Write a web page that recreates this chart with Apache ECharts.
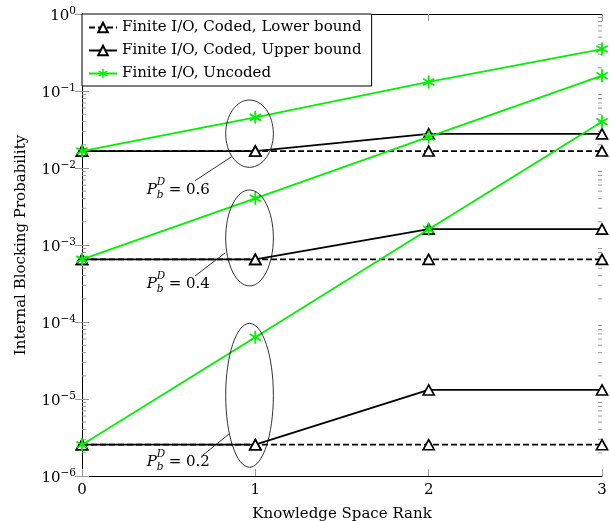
<!DOCTYPE html>
<html><head><meta charset="utf-8">
<script src="https://cdn.jsdelivr.net/npm/echarts@6/dist/echarts.min.js"></script>
<style>html,body{margin:0;padding:0;background:#fff}#c{width:610px;height:521px}</style>
</head><body><div id="c"></div>
<script>
// ---- data ----
const ranks = [0, 1, 2, 3];
const lower06 = [0.0166, 0.0166, 0.0166, 0.0166];
const upper06 = [0.0166, 0.0166, 0.0277, 0.0277];
const uncoded06 = [0.0166, 0.0455, 0.131, 0.351];
const lower04 = [6.5e-4, 6.5e-4, 6.5e-4, 6.5e-4];
const upper04 = [6.5e-4, 6.5e-4, 1.61e-3, 1.61e-3];
const uncoded04 = [6.5e-4, 4.04e-3, 0.0253, 0.158];
const lower02 = [2.55e-6, 2.55e-6, 2.55e-6, 2.55e-6];
const upper02 = [2.55e-6, 2.55e-6, 1.31e-5, 1.31e-5];
const uncoded02 = [2.55e-6, 6.33e-5, 1.6e-3, 0.0399];
const seriesNames = ['Finite I/O, Coded, Lower bound', 'Finite I/O, Coded, Upper bound', 'Finite I/O, Uncoded'];
const xTickLabels = ['0', '1', '2', '3'];
const pdLabels = ['0.6', '0.4', '0.2'];
// annotation anchors in data coordinates: ellipse box [xmin,ymin,xmax,ymax], leader line [x1,y1,x2,y2], label [x,y]
const ellipseBoxes = [[0.829, 0.0102, 1.104, 0.0764], [0.829, 2.94e-4, 1.104, 5.18e-3], [0.829, 1.30e-6, 1.104, 9.6e-5]];
const leaderLines = [[0.863, 0.0140, 0.652, 6.84e-3], [0.825, 7.87e-4, 0.652, 3.96e-4], [0.848, 3.51e-6, 0.698, 1.87e-6]];
const labelAnchors = [[0.373, 5.18e-3], [0.373, 3.12e-4], [0.373, 1.53e-6]];
const minorTickValues = [];
for (let k = -6; k < 0; k++) for (let m = 2; m <= 9; m++) minorTickValues.push(m * Math.pow(10, k));

// ---- style ----
const FONT = "'DejaVu Serif'";
const FS = 15;
const GREEN = '#00f000';
function asteriskPath() {
  const L = 6, W = 0.85; let d = '';
  [90, 30, 150].forEach(a => {
    const r = a * Math.PI / 180, dx = Math.cos(r), dy = Math.sin(r), nx = -dy, ny = dx;
    const pts = [[L*dx + W*nx, L*dy + W*ny], [L*dx - W*nx, L*dy - W*ny], [-L*dx - W*nx, -L*dy - W*ny], [-L*dx + W*nx, -L*dy + W*ny]];
    d += 'M' + pts.map(p => (p[0] + 7).toFixed(3) + ' ' + (p[1] + 7).toFixed(3)).join(' L') + ' Z ';
  });
  return 'path://' + d;
}
const STAR = asteriskPath();
const pairs = arr => ranks.map((r, i) => [r, arr[i]]);

function lineSeries(name, arr, kind) {
  const s = { name, type: 'line', data: pairs(arr), animation: false, showSymbol: true, z: 3 };
  if (kind === 'uncoded') {
    s.symbol = STAR; s.symbolSize = 13; s.symbolKeepAspect = true;
    s.itemStyle = { color: GREEN, borderWidth: 0 };
    s.lineStyle = { color: GREEN, width: 1.8 };
    s.z = 5;
  } else {
    s.symbol = 'triangle'; s.symbolSize = [11, 10];
    s.itemStyle = { color: '#fff', borderColor: '#000', borderWidth: 1.7 };
    s.lineStyle = { color: '#000', width: 1.8, type: kind === 'lower' ? [6, 3] : 'solid' };
    s.z = kind === 'lower' ? 3 : 4;
  }
  return s;
}

const chart = echarts.init(document.getElementById('c'));
const axisCommon = {
  axisLine: { show: true, lineStyle: { color: '#000', width: 1 } },
  splitLine: { show: false }
};
const option = {
  animation: false,
  backgroundColor: '#fff',
  grid: { left: 82, right: 8, top: 14, bottom: 45, containLabel: false, outerBoundsMode: 'none' },
  legend: {
    data: seriesNames, orient: 'vertical', left: 82, top: 14,
    itemWidth: 28, itemHeight: 12, itemGap: 8,
    padding: [6, 10, 5, 6],
    borderColor: '#000', borderWidth: 1, borderRadius: 0, backgroundColor: '#fff',
    textStyle: { fontFamily: FONT, fontSize: FS, color: '#000' },
    selectedMode: false
  },
  xAxis: [
    Object.assign({}, axisCommon, {
      type: 'value', min: 0, max: 3, interval: 1, position: 'bottom',
      axisTick: { show: true, inside: true, length: 7, lineStyle: { color: '#999' } },
      axisLabel: { fontFamily: FONT, fontSize: FS, color: '#000', margin: 7, formatter: v => xTickLabels[Math.round(v)] },
      name: 'Knowledge Space Rank', nameLocation: 'middle', nameGap: 31,
      nameTextStyle: { fontFamily: FONT, fontSize: FS, color: '#000' }
    }),
    Object.assign({}, axisCommon, {
      type: 'value', min: 0, max: 3, interval: 1, position: 'top',
      axisTick: { show: true, inside: true, length: 7, lineStyle: { color: '#999' } },
      axisLabel: { show: false }
    })
  ],
  yAxis: [
    Object.assign({}, axisCommon, {
      type: 'log', logBase: 10, min: 1e-6, max: 1, position: 'left',
      axisTick: { show: true, inside: true, length: 7, lineStyle: { color: '#999' } },
      axisLabel: {
        margin: 6, color: '#000',
        formatter: v => '{b|10}{e|' + String(Math.round(Math.log10(v))).replace('-', '−') + '}',
        rich: {
          b: { fontFamily: FONT, fontSize: FS, color: '#000', padding: [5, 0, 0, 0] },
          e: { fontFamily: FONT, fontSize: 10.5, color: '#000', padding: [0, 0, 6, 0] }
        }
      },
      name: 'Internal Blocking Probability', nameLocation: 'middle', nameGap: 53,
      nameTextStyle: { fontFamily: FONT, fontSize: FS, color: '#000' }
    }),
    Object.assign({}, axisCommon, {
      type: 'log', logBase: 10, min: 1e-6, max: 1, position: 'right',
      axisTick: { show: true, inside: true, length: 7, lineStyle: { color: '#999' } },
      axisLabel: { show: false }
    })
  ],
  series: [
    lineSeries(seriesNames[0], lower06, 'lower'),
    lineSeries(seriesNames[0], lower04, 'lower'),
    lineSeries(seriesNames[0], lower02, 'lower'),
    lineSeries(seriesNames[1], upper06, 'upper'),
    lineSeries(seriesNames[1], upper04, 'upper'),
    lineSeries(seriesNames[1], upper02, 'upper'),
    lineSeries(seriesNames[2], uncoded06, 'uncoded'),
    lineSeries(seriesNames[2], uncoded04, 'uncoded'),
    lineSeries(seriesNames[2], uncoded02, 'uncoded'),
    {
      type: 'custom', silent: true, z: 1, animation: false,
      data: minorTickValues.map(v => [0, v]),
      encode: { x: 0, y: 1 },
      renderItem: (params, api) => {
        const v = api.value(1);
        const p = api.coord([0, v]), q = api.coord([3, v]);
        const st = { stroke: '#999', lineWidth: 1 };
        return { type: 'group', children: [
          { type: 'line', shape: { x1: p[0], y1: p[1], x2: p[0] + 4, y2: p[1] }, style: st },
          { type: 'line', shape: { x1: q[0] - 4, y1: q[1], x2: q[0], y2: q[1] }, style: st }
        ] };
      }
    },
    {
      type: 'custom', silent: true, z: 6, animation: false,
      data: ellipseBoxes.map(b => [b[0], b[1], b[2], b[3]]),
      encode: { x: [0, 2], y: [1, 3] },
      renderItem: (params, api) => {
        const i = params.dataIndex;
        const b = ellipseBoxes[i], l = leaderLines[i], t = labelAnchors[i];
        const p1 = api.coord([b[0], b[3]]), p2 = api.coord([b[2], b[1]]);
        const a1 = api.coord([l[0], l[1]]), a2 = api.coord([l[2], l[3]]);
        const tp = api.coord([t[0], t[1]]);
        const st = { stroke: '#000', lineWidth: 0.8, fill: null };
        const ital = s => 'italic ' + s + 'px ' + FONT;
        return { type: 'group', children: [
          { type: 'ellipse', shape: { cx: (p1[0] + p2[0]) / 2, cy: (p1[1] + p2[1]) / 2, rx: Math.abs(p2[0] - p1[0]) / 2, ry: Math.abs(p2[1] - p1[1]) / 2 }, style: { stroke: '#000', lineWidth: 0.8, fill: 'none' } },
          { type: 'line', shape: { x1: a1[0], y1: a1[1], x2: a2[0], y2: a2[1] }, style: st },
          { type: 'text', x: tp[0], y: tp[1], style: { text: 'P', font: ital(FS), fill: '#000', align: 'left', verticalAlign: 'middle' } },
          { type: 'text', x: tp[0] + 10, y: tp[1] - 8, style: { text: 'D', font: ital(10.5), fill: '#000', align: 'left', verticalAlign: 'middle' } },
          { type: 'text', x: tp[0] + 10, y: tp[1] + 5, style: { text: 'b', font: ital(10.5), fill: '#000', align: 'left', verticalAlign: 'middle' } },
          { type: 'text', x: tp[0] + 22, y: tp[1], style: { text: '= ' + pdLabels[i], font: FS + 'px ' + FONT, fill: '#000', align: 'left', verticalAlign: 'middle' } }
        ] };
      }
    }
  ]
};
chart.setOption(option);
</script>
</body></html>
